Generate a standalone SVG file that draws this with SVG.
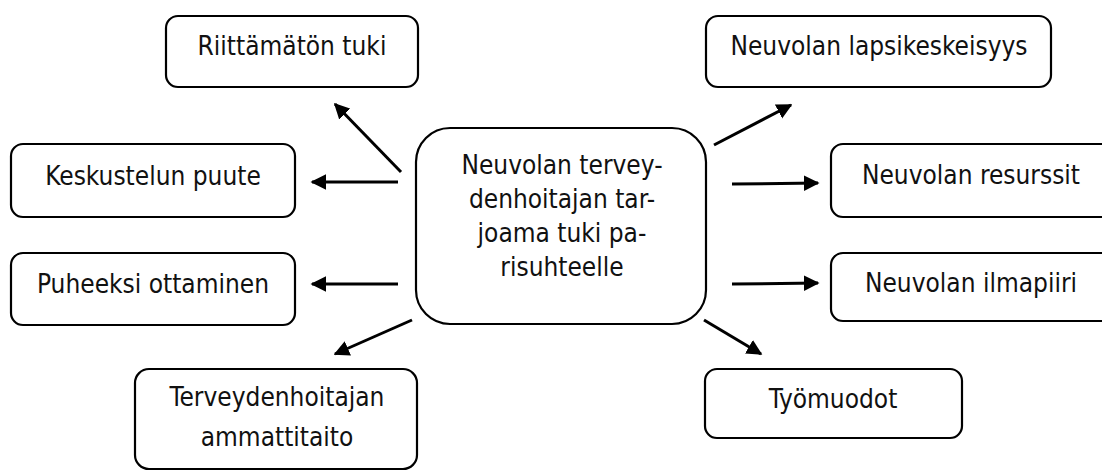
<svg xmlns="http://www.w3.org/2000/svg" width="1102" height="471" viewBox="0 0 1102 471">
<defs>
<style>
.box{fill:#fff;stroke:#000;stroke-width:2.2}
.t{font-family:"DejaVu Sans Condensed","DejaVu Sans",sans-serif;font-stretch:condensed;font-size:26px;fill:#111;text-anchor:middle}
.c{stroke:#000;stroke-width:3;fill:none;marker-end:url(#ah)}
</style>
<marker id="ah" viewBox="0 0 10 10" refX="9" refY="5" markerWidth="5.2" markerHeight="5.4" markerUnits="strokeWidth" orient="auto">
<path d="M0,0 L10,5 L0,10 z" fill="#000"/>
</marker>
</defs>
<rect width="1102" height="471" fill="#fff"/>
<g id="connectors">
<line class="c" x1="401" y1="172" x2="335" y2="104"/>
<line class="c" x1="398" y1="182" x2="312" y2="182"/>
<line class="c" x1="398" y1="284" x2="312" y2="284"/>
<line class="c" x1="412" y1="320" x2="335" y2="354"/>
<line class="c" x1="714" y1="145" x2="791" y2="105"/>
<line class="c" x1="732" y1="184" x2="818" y2="183"/>
<line class="c" x1="732" y1="284" x2="818" y2="283"/>
<line class="c" x1="704" y1="320" x2="761" y2="354"/>
</g>
<g id="center">
<rect class="box" x="416" y="128" width="290" height="196" rx="34"/>
<text class="t" x="562" y="174">Neuvolan tervey-</text>
<text class="t" x="562" y="208">denhoitajan tar-</text>
<text class="t" x="562" y="242">joama tuki pa-</text>
<text class="t" x="562" y="276">risuhteelle</text>
</g>
<g id="n-riittamaton">
<rect class="box" x="166" y="16" width="252" height="71" rx="12"/>
<text class="t" x="292" y="55">Riittämätön tuki</text>
</g>
<g id="n-keskustelun">
<rect class="box" x="11" y="144" width="284" height="73" rx="12"/>
<text class="t" x="153" y="185">Keskustelun puute</text>
</g>
<g id="n-puheeksi">
<rect class="box" x="11" y="253" width="284" height="72" rx="12"/>
<text class="t" x="153" y="293">Puheeksi ottaminen</text>
</g>
<g id="n-terveydenhoitajan">
<rect class="box" x="135" y="369" width="282" height="100" rx="14"/>
<text class="t" x="277" y="406">Terveydenhoitajan</text>
<text class="t" x="277" y="446">ammattitaito</text>
</g>
<g id="n-lapsikeskeisyys">
<rect class="box" x="706" y="16" width="345" height="71" rx="12"/>
<text class="t" x="879" y="55">Neuvolan lapsikeskeisyys</text>
</g>
<g id="n-resurssit">
<rect class="box" x="831" y="144" width="290" height="73" rx="12"/>
<text class="t" x="971" y="184">Neuvolan resurssit</text>
</g>
<g id="n-ilmapiiri">
<rect class="box" x="831" y="253" width="290" height="68" rx="12"/>
<text class="t" x="971" y="292">Neuvolan ilmapiiri</text>
</g>
<g id="n-tyomuodot">
<rect class="box" x="705" y="369" width="257" height="69" rx="12"/>
<text class="t" x="833" y="408">Työmuodot</text>
</g>
</svg>
